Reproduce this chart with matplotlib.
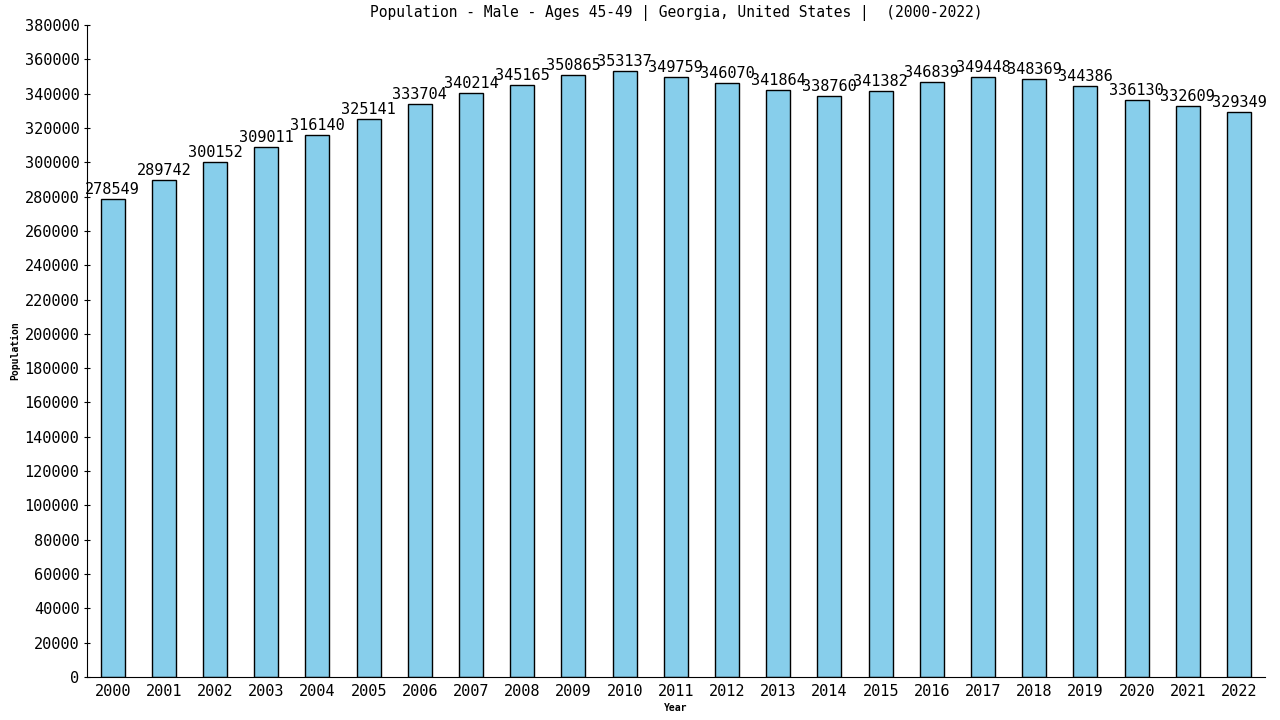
import matplotlib
matplotlib.use('Agg')
import matplotlib.pyplot as plt

# Datos
years = [str(y) for y in range(2000, 2023)]
population = [278549, 289742, 300152, 309011, 316140, 325141, 333704, 340214,
              345165, 350865, 353137, 349759, 346070, 341864, 338760, 341382,
              346839, 349448, 348369, 344386, 336130, 332609, 329349]
yticks = list(range(0, 380001, 20000))

plt.rcParams['font.family'] = 'DejaVu Sans Mono'

fig = plt.figure(figsize=(12.8, 7.2), dpi=100)
ax = fig.add_axes([0.068, 0.0597, 0.92, 0.9056])

x = list(range(len(years)))
ax.bar(x, population, width=0.47, color='#87ceeb', edgecolor='black', linewidth=1)

for xi, v in zip(x, population):
    ax.text(xi, v + 1200, str(v), ha='center', va='bottom', fontsize=11)

ax.set_xlim(-0.5, len(years) - 0.5)
ax.set_ylim(0, 380000)
ax.set_xticks(x)
ax.set_xticklabels(years, fontsize=11)
ax.set_yticks(yticks)
ax.set_yticklabels([str(t) for t in yticks], fontsize=11)
ax.tick_params(axis='x', length=0, pad=5)
ax.tick_params(axis='y', length=5, direction='inout', pad=3)

for s in ['top', 'right']:
    ax.spines[s].set_visible(False)

ax.set_xlabel('Year', fontsize=7, fontweight='bold', labelpad=3)
ax.set_ylabel('Population', fontsize=7, fontweight='bold', labelpad=3)
ax.set_title('Population - Male - Ages 45-49 | Georgia, United States |  (2000-2022)',
             fontsize=10.5, pad=6)

fig.savefig('out.png', dpi=100)
